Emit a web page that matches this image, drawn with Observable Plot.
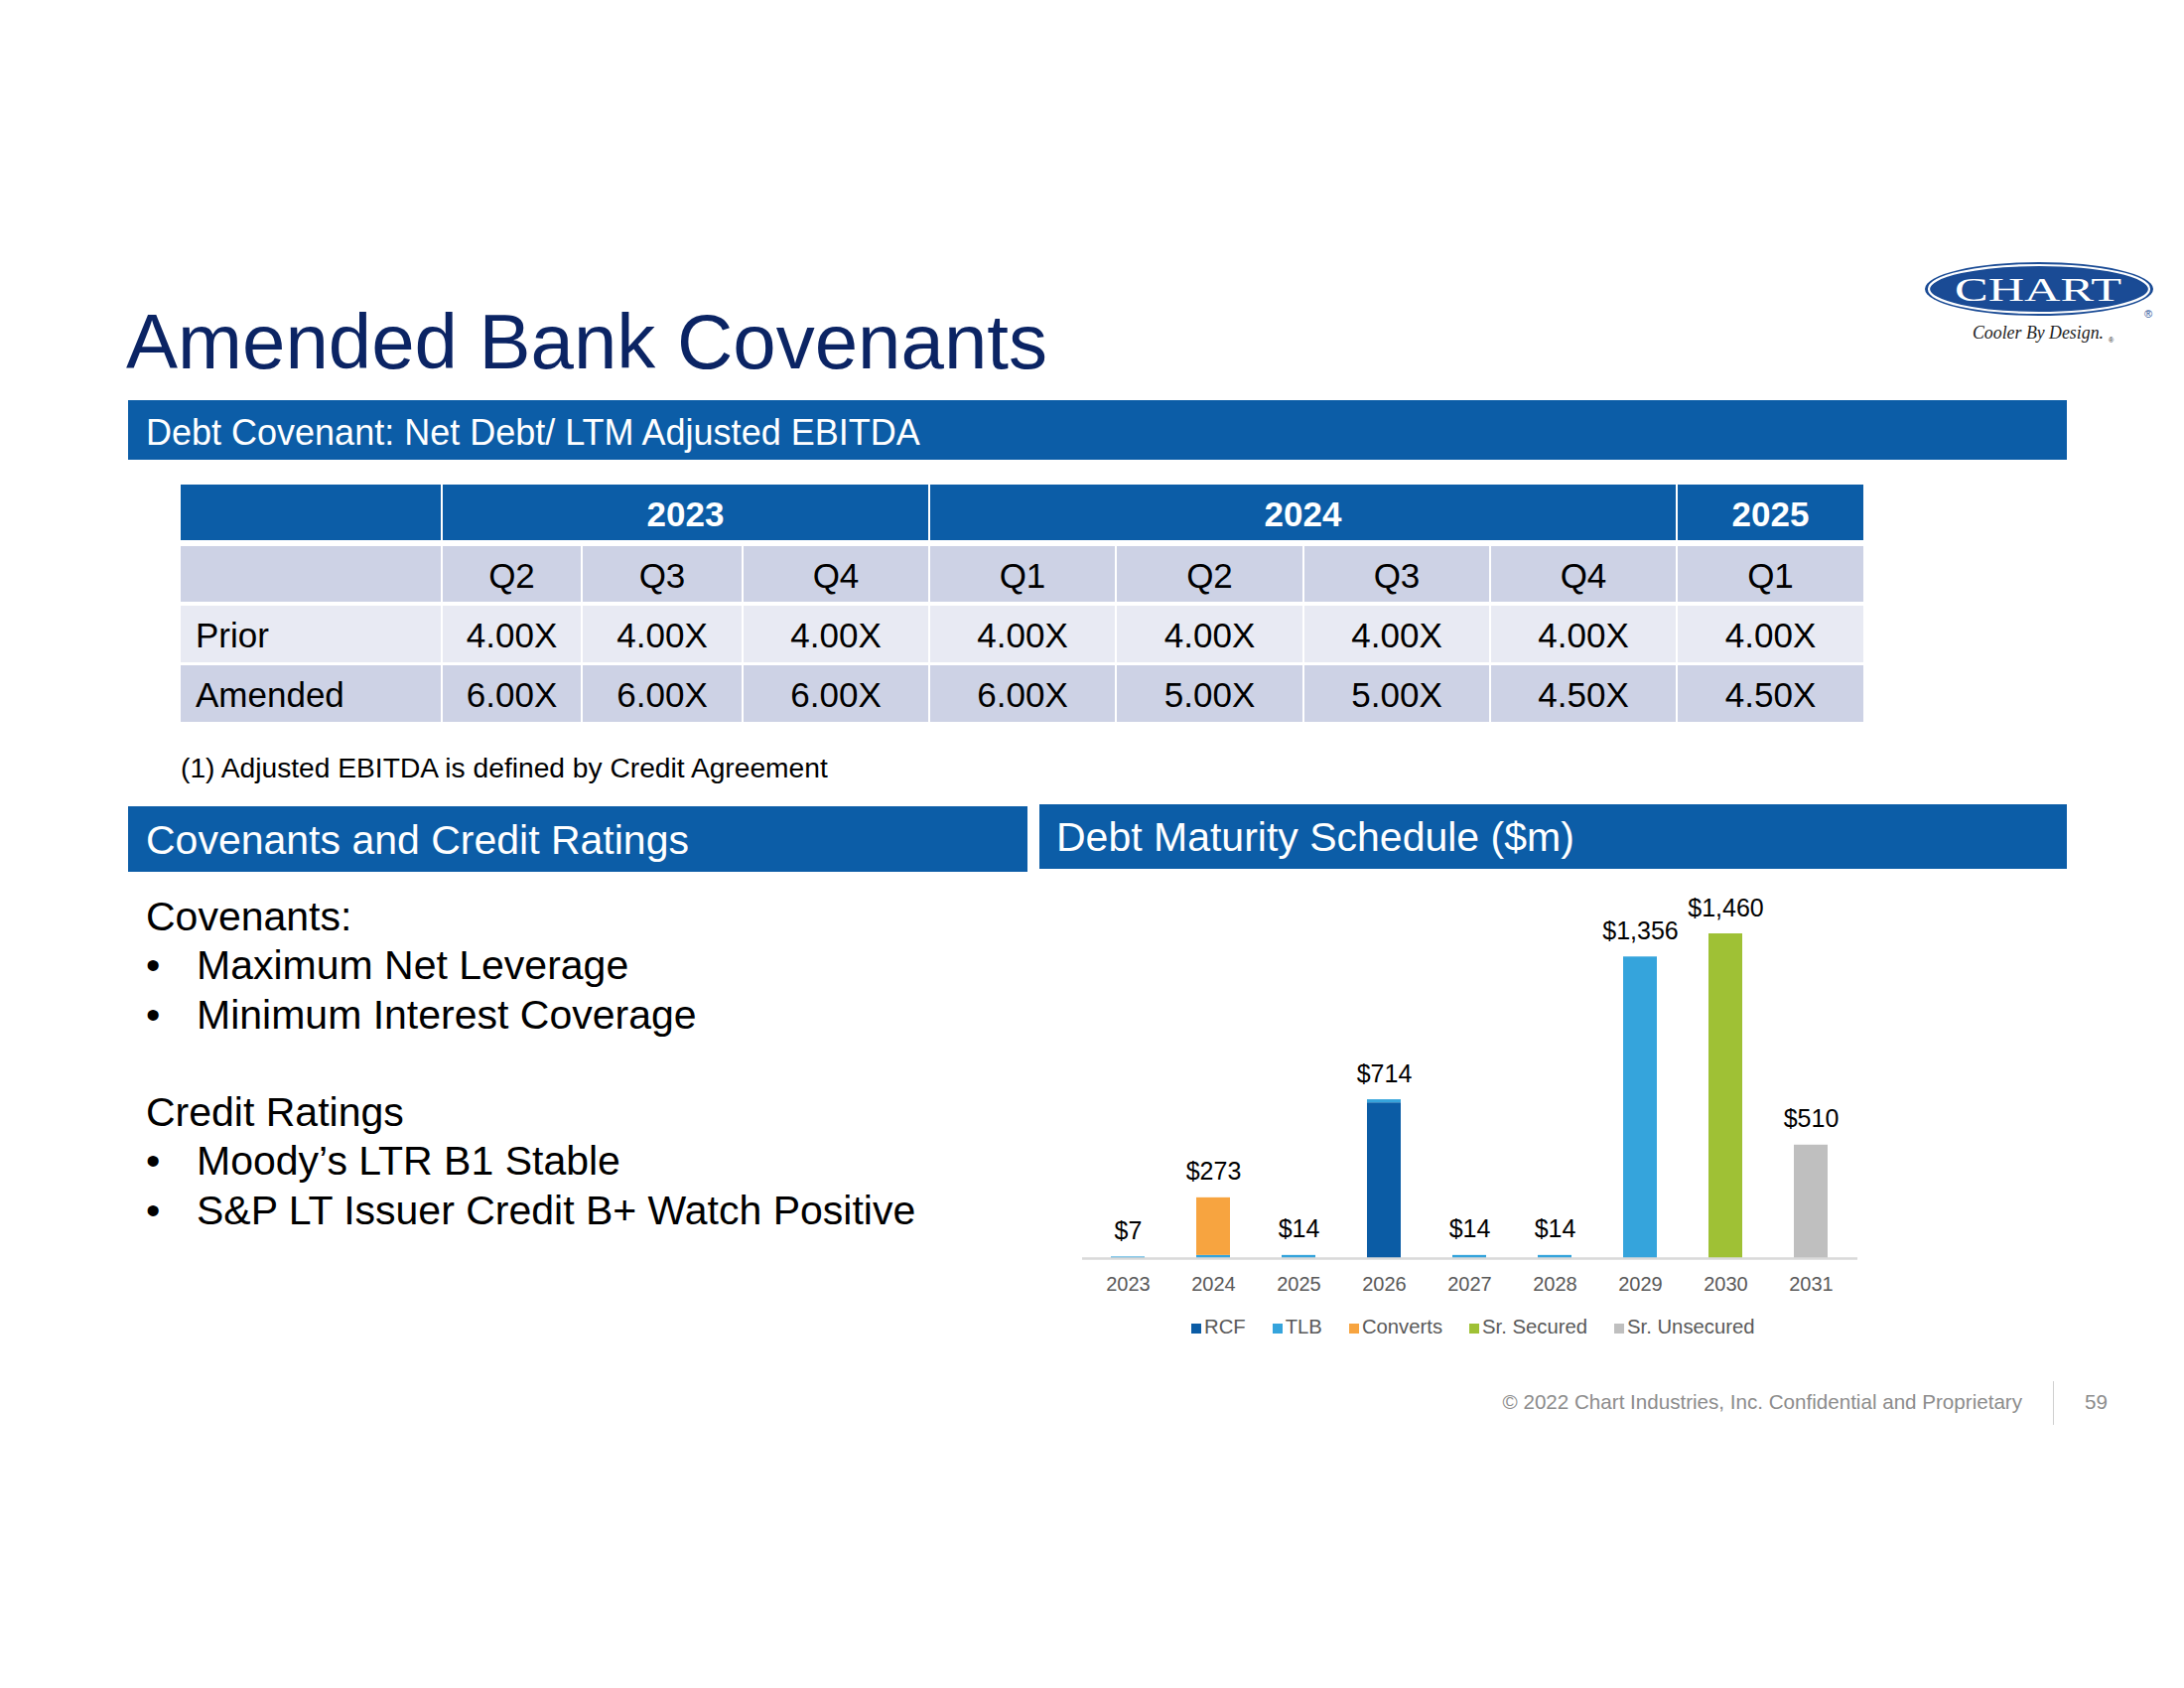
<!DOCTYPE html>
<html>
<head>
<meta charset="utf-8">
<script src="https://cdn.jsdelivr.net/npm/d3@7"></script>
<script src="https://cdn.jsdelivr.net/npm/@observablehq/plot@0.6"></script>
<style>
  html, body { margin:0; padding:0; background:#fff; }
  body { width:2200px; height:1700px; position:relative; overflow:hidden; font-family:"Liberation Sans", Arial, sans-serif; }
  .abs { position:absolute; }
  .bar { position:absolute; background:#0c5da7; color:#fff; display:flex; align-items:center; box-sizing:border-box; }
  .cell { position:absolute; display:flex; align-items:center; justify-content:center; box-sizing:border-box; font-size:35px; color:#000; }
  .lines div { height:49.3px; line-height:49.3px; font-size:41px; color:#000; white-space:nowrap; position:relative; }
  .lines .b { padding-left:51px; }
  .lines .b::before { content:"•"; position:absolute; left:0; }
  #legend { display:flex; gap:27px; font-size:20.3px; color:#595959; }
  #legend span.sw { display:inline-block; width:10px; height:10px; margin-right:3px; vertical-align:0px; }
</style>
</head>
<body>
<script>
// ---------- DATA ----------
const years = ["2023","2024","2025","2026","2027","2028","2029","2030","2031"];
const seriesNames = ["RCF","TLB","Converts","Sr. Secured","Sr. Unsecured"];
const seriesColors = ["#0b5ca5","#35a4dc","#f7a440","#9fc135","#bfbfbf"];
const rcf         = [0,   0, 0, 700, 0, 0,    0,    0,   0];
const tlb         = [7,  14,14,  14,14,14, 1356,    0,   0];
const converts    = [0, 259, 0,   0, 0, 0,    0,    0,   0];
const srSecured   = [0,   0, 0,   0, 0, 0,    0, 1460,   0];
const srUnsecured = [0,   0, 0,   0, 0, 0,    0,    0, 510];
const totals      = [7, 273,14, 714,14,14, 1356, 1460, 510];

const yearGroups = ["2023","2024","2025"];
const yearSpans  = [3, 4, 1];
const quarters   = ["Q2","Q3","Q4","Q1","Q2","Q3","Q4","Q1"];
const priorVals  = ["4.00X","4.00X","4.00X","4.00X","4.00X","4.00X","4.00X","4.00X"];
const amendVals  = ["6.00X","6.00X","6.00X","6.00X","5.00X","5.00X","4.50X","4.50X"];
const rowLabels  = ["Prior","Amended"];

const covenants = ["Maximum Net Leverage","Minimum Interest Coverage"];
const ratings   = ["Moody’s LTR B1 Stable","S&P LT Issuer Credit B+ Watch Positive"];

// ---------- STATIC TEXT ----------
function add(html){ document.body.insertAdjacentHTML("beforeend", html); }

// Logo
add(`<svg class="abs" style="left:1930px;top:255px" width="260" height="100" viewBox="1930 255 260 100">
  <ellipse cx="2054" cy="291" rx="115" ry="27" fill="#1a4b95"/>
  <ellipse cx="2054" cy="291" rx="111" ry="24" fill="none" stroke="#fff" stroke-width="2.2"/>
  <ellipse cx="2054" cy="291" rx="106" ry="21" fill="#1a4b95"/>
  <text x="2053" y="303" text-anchor="middle" fill="#fff" font-family="Liberation Serif, Times New Roman, serif" font-size="34" textLength="168" lengthAdjust="spacingAndGlyphs">CHART</text>
  <text x="2164" y="320" text-anchor="middle" fill="#1a4b95" font-family="Liberation Sans, Arial" font-size="11">®</text>
  <text x="1987" y="341" fill="#222" font-family="Liberation Serif, Times New Roman, serif" font-style="italic" font-size="19" textLength="132" lengthAdjust="spacingAndGlyphs">Cooler By Design.</text>
  <text x="2124" y="345" fill="#222" font-family="Liberation Sans, Arial" font-size="7">®</text>
</svg>`);

// Title
add(`<div class="abs" style="left:127px;top:305px;font-size:78px;line-height:78px;color:#0b2464;white-space:nowrap">Amended Bank Covenants</div>`);
// Section bars
add(`<div class="bar" style="left:129px;top:403px;width:1953px;height:60px;padding-left:18px;padding-top:5px;font-size:36px">Debt Covenant: Net Debt/ LTM Adjusted EBITDA</div>`);
add(`<div class="bar" style="left:129px;top:812px;width:906px;height:66px;padding-left:18px;padding-top:2px;font-size:41px">Covenants and Credit Ratings</div>`);
add(`<div class="bar" style="left:1047px;top:810px;width:1035px;height:65px;padding-left:17px;padding-top:2px;font-size:41px">Debt Maturity Schedule ($m)</div>`);

// Footnote
add(`<div class="abs" style="left:182px;top:758px;font-size:28.2px;line-height:30px;color:#000;white-space:nowrap">(1) Adjusted EBITDA is defined by Credit Agreement</div>`);

// Left text
add(`<div class="abs lines" style="left:147px;top:899px">
  <div>Covenants:</div>
  ${covenants.map(t=>`<div class="b">${t}</div>`).join("")}
  <div>&nbsp;</div>
  <div>Credit Ratings</div>
  ${ratings.map(t=>`<div class="b">${t.replace("&","&amp;")}</div>`).join("")}
</div>`);

// Footer
add(`<div class="abs" style="left:1300px;top:1400px;width:737px;text-align:right;font-size:20.6px;line-height:24px;color:#8c8c8c;white-space:nowrap">© 2022 Chart Industries, Inc. Confidential and Proprietary</div>`);
add(`<div class="abs" style="left:2068px;top:1391px;width:1px;height:44px;background:#d0d0d0"></div>`);
add(`<div class="abs" style="left:2100px;top:1400px;font-size:20.6px;line-height:24px;color:#8c8c8c">59</div>`);

// ---------- TABLE ----------
const colEdges = [182,445,586,748,936,1124,1313,1501,1689,1877];
const rowTops = [488,550,610,670];
const rowHeights = [56,56,57,57];
function cell(x0,x1,top,h,bg,text,opts={}){
  const g = 1;
  add(`<div class="cell" style="left:${x0+(opts.first?0:g)}px;top:${top}px;width:${x1-x0-(opts.first?g:2*g)+(opts.last?g:0)}px;height:${h}px;background:${bg};padding-top:3px;${opts.left?'justify-content:flex-start;padding-left:15px;':''}${opts.style||''}">${text}</div>`);
}
const blue="#0c5da7", lav="#cdd2e5", light="#e8eaf3";
// header
cell(colEdges[0],colEdges[1],rowTops[0],rowHeights[0],blue,"",{first:true});
let ci=1;
yearGroups.forEach((y,i)=>{
  const x0=colEdges[ci], x1=colEdges[ci+yearSpans[i]];
  cell(x0,x1,rowTops[0],rowHeights[0],blue,y,{last:i===yearGroups.length-1,style:"color:#fff;font-weight:bold"});
  ci+=yearSpans[i];
});
// quarter row
cell(colEdges[0],colEdges[1],rowTops[1],rowHeights[1],lav,"",{first:true});
quarters.forEach((q,i)=>cell(colEdges[i+1],colEdges[i+2],rowTops[1],rowHeights[1],lav,q,{last:i===quarters.length-1}));
// data rows
[[priorVals,light],[amendVals,lav]].forEach(([vals,bg],r)=>{
  cell(colEdges[0],colEdges[1],rowTops[2+r],rowHeights[2+r],bg,rowLabels[r],{first:true,left:true});
  vals.forEach((v,i)=>cell(colEdges[i+1],colEdges[i+2],rowTops[2+r],rowHeights[2+r],bg,v,{last:i===vals.length-1}));
});

// ---------- CHART ----------
const seriesArrays = [rcf, tlb, converts, srSecured, srUnsecured];
const rows = [];
years.forEach((yr,i)=>{
  seriesNames.forEach((s,j)=>{
    const v = seriesArrays[j][i];
    if (v > 0) rows.push({year: yr, series: s, value: v});
  });
});
const totalRows = years.map((yr,i)=>({year: yr, total: totals[i]}));

const chart = Plot.plot({
  width: 1035,
  height: 440,
  marginTop: 60,
  marginBottom: 53,
  marginLeft: 43,
  marginRight: 211,
  style: {fontFamily: "Liberation Sans, Arial, sans-serif", fontSize: "20px", color: "#595959", background: "transparent", overflow: "visible"},
  x: {domain: years, paddingInner: 0.6, paddingOuter: 0.3, label: null, tickSize: 0, tickPadding: 18},
  y: {domain: [0, 1460], axis: null},
  color: {domain: seriesNames, range: seriesColors},
  marks: [
    Plot.barY(rows, {x: "year", y: "value", fill: "series"}),
    Plot.ruleY([0], {stroke: "#d9d9d9", strokeWidth: 2.5}),
    Plot.text(totalRows, {x: "year", y: "total", text: d => "$" + d3.format(",")(d.total), dy: -26, fontSize: 25, fill: "#000"})
  ]
});
chart.style.position = "absolute";
chart.style.left = "1047px";
chart.style.top = "880px";
document.body.appendChild(chart);

// Legend
const legend = document.createElement("div");
legend.id = "legend";
legend.className = "abs";
legend.innerHTML = seriesNames.map((s,i)=>`<div><span class="sw" style="background:${seriesColors[i]}"></span>${s}</div>`).join("");
document.body.appendChild(legend);
legend.style.top = "1325px";
legend.style.left = (1484 - legend.offsetWidth/2) + "px";
</script>
</body>
</html>
